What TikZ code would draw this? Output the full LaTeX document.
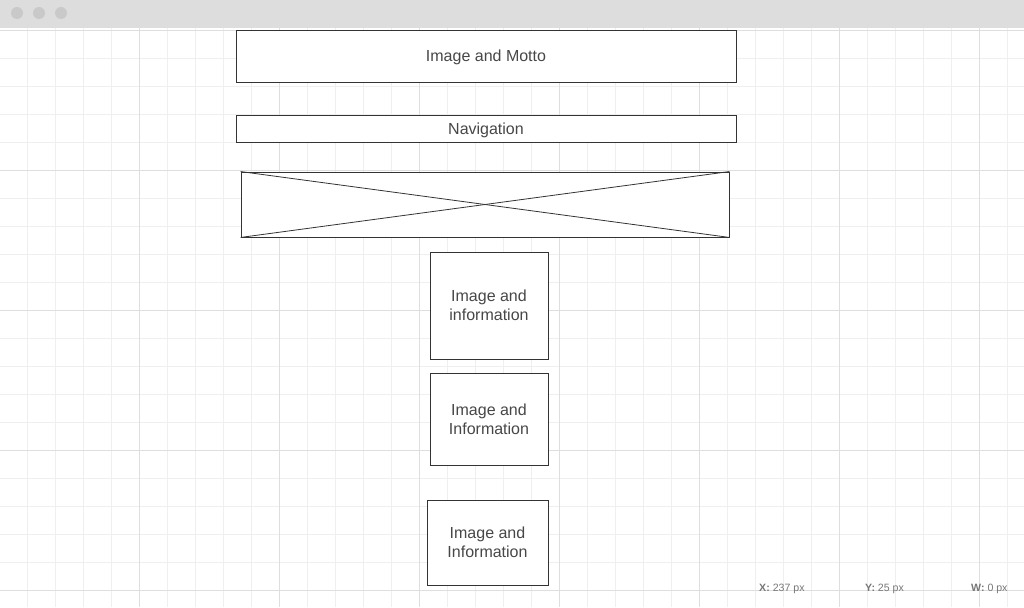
\documentclass[tikz,border=0pt]{standalone}
\usepackage{fontspec}
\setmainfont{Liberation Sans}
\definecolor{barbg}{HTML}{DDDDDD}
\definecolor{bardot}{HTML}{C9C9C9}
\definecolor{gridmin}{HTML}{EFEFEF}
\definecolor{gridmaj}{HTML}{DEDEDE}
\definecolor{boxline}{HTML}{333333}
\definecolor{boxtext}{HTML}{474747}
\definecolor{stattext}{HTML}{777777}
\tikzset{
  wirebox/.style={draw=boxline, line width=0.9pt, fill=white, inner sep=0pt,
    text=boxtext, align=center, text depth=0.5pt, font=\fontsize{16}{19}\selectfont},
  statlabel/.style={anchor=west, inner sep=0pt, text=stattext,
    font=\fontsize{10.6}{12}\selectfont},
}
\begin{document}
\begin{tikzpicture}  % ------ Maquette de page d'accueil --------
      [x=1pt, y=-1pt]

    \useasboundingbox (0,0) rectangle (1024,607);
    \fill[white] (0,0) rectangle (1024,607);

    % grille
    \foreach \i in {0,...,37} \draw[gridmin, line width=0.8pt] ({-1+28*\i},28) -- ({-1+28*\i},607);
    \foreach \j in {0,...,20} \draw[gridmin, line width=0.8pt] (0,{30+28*\j}) -- (1024,{30+28*\j});
    \foreach \i in {1,...,7} \draw[gridmaj, line width=0.8pt] ({-1+140*\i},28) -- ({-1+140*\i},607);
    \foreach \j in {0,...,4} \draw[gridmaj, line width=0.8pt] (0,{30+140*\j}) -- (1024,{30+140*\j});

    % barre de fenetre
    \fill[barbg] (0,0) rectangle (1024,28.5);
    \foreach \x in {17,39,61} \fill[bardot] (\x,13) circle (6);

    % blocs
    \node[wirebox, minimum width=500, minimum height=52] (motto) at (486,56) {Image and Motto};
    \node[wirebox, minimum width=500, minimum height=27] (nav) at (486,128.5) {Navigation};
    \node[wirebox, minimum width=488, minimum height=65] (banner) at (485,204.5) {};
    \draw[boxline, line width=0.8pt] (banner.north west) -- (banner.south east);
    \draw[boxline, line width=0.8pt] (banner.south west) -- (banner.north east);
    \node[wirebox, minimum width=118, minimum height=107] (infoA) at (489,305.5) {Image and\\information};
    \node[wirebox, minimum width=118, minimum height=92] (infoB) at (489,419) {Image and\\Information};
    \node[wirebox, minimum width=121, minimum height=85] (infoC) at (487.5,542.5) {Image and\\Information};

    % barre d'etat
    \node[statlabel] (posx) at (759,588.5) {\textbf{X:} 237 px};
    \node[statlabel] (posy) at (865,588.5) {\textbf{Y:} 25 px};
    \node[statlabel] (posw) at (971,588.5) {\textbf{W:} 0 px};
\end{tikzpicture}
\end{document}
